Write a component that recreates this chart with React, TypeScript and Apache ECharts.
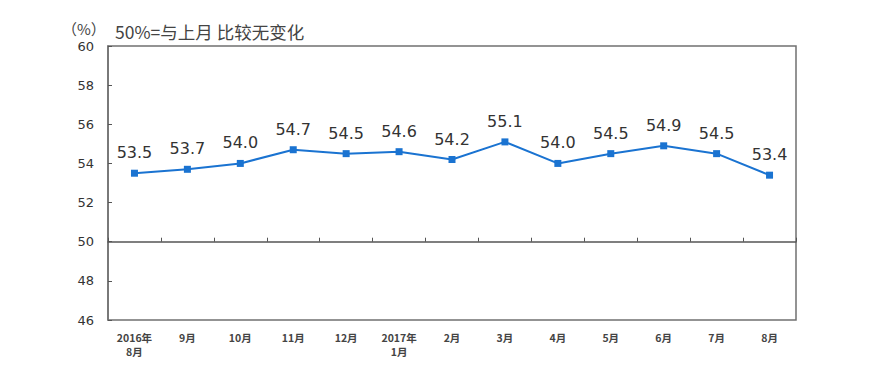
import React, { useEffect, useRef } from "react";
import * as echarts from "echarts";

const categories = ["2016年\n8月", "9月", "10月", "11月", "12月", "2017年\n1月", "2月", "3月", "4月", "5月", "6月", "7月", "8月"];
const values = [53.5, 53.7, 54.0, 54.7, 54.5, 54.6, 54.2, 55.1, 54.0, 54.5, 54.9, 54.5, 53.4];
const yMin = 46;
const yMax = 60;
const yInterval = 2;
const refLine = 50;
const unitText = "（%）";
const noteText = "50%=与上月 比较无变化";

export default function App() {
  const ref = useRef<HTMLDivElement>(null);
  useEffect(() => {
    document.body.style.margin = "0";
    if (!ref.current) return;
    const chart = echarts.init(ref.current, null, { renderer: "svg" });
    const gridTop = 46;
    const gridBottom = 58;
    const plotH = 378 - gridTop - gridBottom;
    const refOffset = -((refLine - yMin) / (yMax - yMin)) * plotH;
    chart.setOption({
      animation: false,
      backgroundColor: "#ffffff",
      graphic: [
        {
          type: "text",
          left: 62,
          top: 21,
          style: { text: unitText, font: "15px 'Noto Sans CJK SC', sans-serif", fill: "#444" },
        },
        {
          type: "text",
          left: 115,
          top: 23,
          style: { text: noteText, font: "17.5px 'Noto Sans CJK SC', sans-serif", fill: "#444" },
        },
      ],
      grid: {
        left: 108,
        right: 74,
        top: gridTop,
        bottom: gridBottom,
        show: true,
        borderColor: "#707070",
        borderWidth: 1.5,
        backgroundColor: "transparent",
      },
      xAxis: [
        {
          type: "category",
          data: categories,
          boundaryGap: true,
          position: "bottom",
          axisLine: { show: false },
          axisTick: { show: false },
          axisLabel: {
            interval: 0,
            margin: 10,
            fontSize: 10.5,
            fontWeight: "bold",
            color: "#444",
            lineHeight: 14,
            fontFamily: "'Noto Sans CJK SC', sans-serif",
          },
        },
        {
          type: "category",
          data: categories,
          boundaryGap: true,
          position: "bottom",
          offset: refOffset,
          axisLine: { show: true, lineStyle: { color: "#555", width: 1.5 } },
          axisTick: { show: true, inside: true, length: 4, lineStyle: { color: "#555" } },
          axisLabel: { show: false },
        },
      ],
      yAxis: {
        type: "value",
        min: yMin,
        max: yMax,
        interval: yInterval,
        axisLine: { show: true, lineStyle: { color: "#707070", width: 1.5 } },
        axisTick: { show: true, inside: true, length: 4, lineStyle: { color: "#555" } },
        splitLine: { show: false },
        axisLabel: { margin: 14, fontSize: 13, color: "#333", fontFamily: "'DejaVu Sans', sans-serif" },
      },
      series: [
        {
          type: "line",
          xAxisIndex: 0,
          data: values,
          symbol: "rect",
          symbolSize: 7,
          lineStyle: { color: "#1a73d1", width: 2 },
          itemStyle: { color: "#1a73d1" },
          label: {
            show: true,
            position: "top",
            distance: 9,
            fontSize: 16,
            color: "#333",
            fontFamily: "'DejaVu Sans', sans-serif",
            formatter: (p: any) => Number(p.value).toFixed(1),
          },
        },
      ],
    });
    return () => chart.dispose();
  }, []);
  return <div ref={ref} style={{ width: 870, height: 378 }} />;
}
